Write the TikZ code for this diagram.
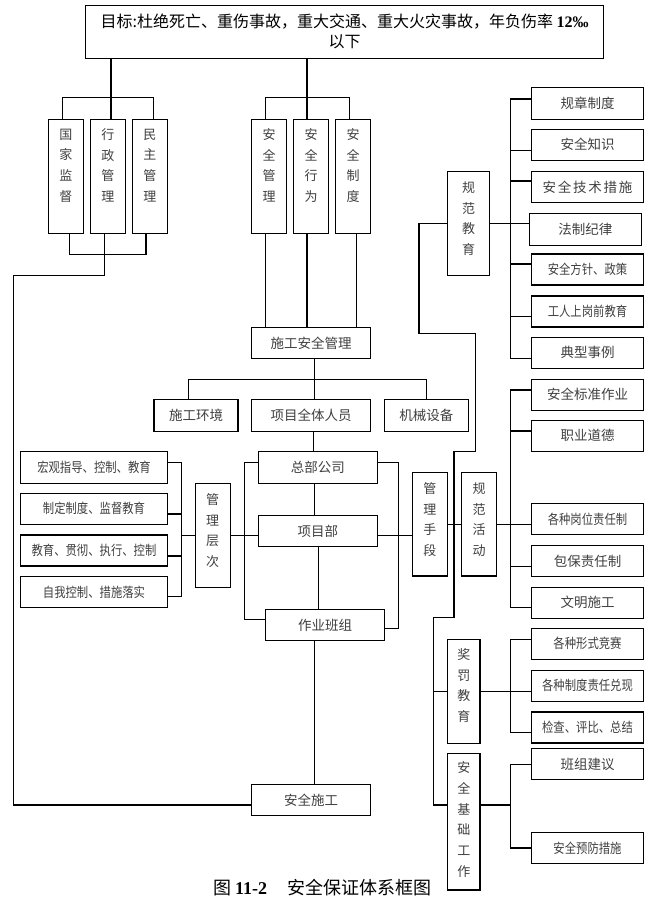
\documentclass[tikz,border=0pt]{standalone}
\usepackage{fontspec}
\setmainfont{Noto Sans CJK SC}
\newfontfamily\cjknarrow{Noto Sans CJK SC}[FakeStretch=0.84]
\newfontfamily\tnr{Liberation Serif}
\newcommand\lsp{\kern1.8pt}
\begin{document}
\begin{tikzpicture}[x=1pt,y=-1pt]
\tikzset{
 bx/.style={draw=black, line width=1.1pt, inner sep=0pt, text=black!75, font=\fontsize{13.5}{16}\selectfont},
 rbx/.style={bx, minimum width=111.6pt, minimum height=31pt},
 lbx/.style={bx, minimum width=146.6pt, minimum height=31pt},
 mbx/.style={bx, minimum width=118.6pt, minimum height=31pt},
 vtxt/.style={inner sep=0pt, align=center, text=black!75, font=\fontsize{13}{20.7}\selectfont},
 ln/.style={line width=1.1pt},
}
\fill[white] (0,0) rectangle (654,906);
\useasboundingbox (0,0) rectangle (654,906);

% top box
\node[bx, text=black, minimum width=518pt, minimum height=53pt, align=center, font=\fontsize{16}{20}\selectfont] (top) at (344.7,31.8) {目标:杜绝死亡、重伤事故，重大交通、重大火灾事故，年负伤率 {\tnr\bfseries 12‰}\\以下};

% vertical boxes, top row
\node[bx, minimum width=35pt, minimum height=114pt] (gjjd) at (65.8,176.3) {};
\node[vtxt] (gjjd-t) at ([yshift=-46.7pt]gjjd.north) {国\\家\\监\\督};
\node[bx, minimum width=35pt, minimum height=114pt] (xzgl) at (107.8,176.3) {};
\node[vtxt] (xzgl-t) at ([yshift=-46.7pt]xzgl.north) {行\\政\\管\\理};
\node[bx, minimum width=35pt, minimum height=114pt] (mzgl) at (149.8,176.3) {};
\node[vtxt] (mzgl-t) at ([yshift=-46.7pt]mzgl.north) {民\\主\\管\\理};
\node[bx, minimum width=35pt, minimum height=114pt] (aqgl) at (269.2,176.3) {};
\node[vtxt] (aqgl-t) at ([yshift=-46.7pt]aqgl.north) {安\\全\\管\\理};
\node[bx, minimum width=35pt, minimum height=114pt] (aqxw) at (311.2,176.3) {};
\node[vtxt] (aqxw-t) at ([yshift=-46.7pt]aqxw.north) {安\\全\\行\\为};
\node[bx, minimum width=35pt, minimum height=114pt] (aqzd) at (353.2,176.3) {};
\node[vtxt] (aqzd-t) at ([yshift=-46.7pt]aqzd.north) {安\\全\\制\\度};

% other vertical boxes
\node[bx, minimum width=41.6pt, minimum height=103.6pt] (gfjy) at (468.5,223.5) {};
\node[vtxt] (gfjy-t) at ([yshift=-47.6pt]gfjy.north) {规\\范\\教\\育};
\node[bx, minimum width=35.3pt, minimum height=103.7pt] (glcc) at (212.7,535.3) {};
\node[vtxt] (glcc-t) at ([yshift=-47.7pt]glcc.north) {管\\理\\层\\次};
\node[bx, minimum width=35.2pt, minimum height=103.3pt] (glsd) at (429.9,524.3) {};
\node[vtxt] (glsd-t) at ([yshift=-47.6pt]glsd.north) {管\\理\\手\\段};
\node[bx, minimum width=34.8pt, minimum height=103.3pt] (gfhd) at (479.1,524.3) {};
\node[vtxt] (gfhd-t) at ([yshift=-47.6pt]gfhd.north) {规\\范\\活\\动};
\node[bx, minimum width=32.3pt, minimum height=104pt] (jfjy) at (463.8,691.3) {};
\node[vtxt] (jfjy-t) at ([yshift=-46.7pt]jfjy.north) {奖\\罚\\教\\育};
\node[bx, minimum width=32.3pt, minimum height=136.7pt] (aqjcgz) at (463.8,821.65) {};
\node[vtxt] (aqjcgz-t) at ([yshift=-66.8pt]aqjcgz.north) {安\\全\\基\\础\\工\\作};

% middle column
\node[mbx] (sgaqgl) at (311,342.8) {施工安全管理};
\node[bx, minimum width=84pt, minimum height=31.6pt] (sghj) at (196,415.5) {施工环境};
\node[mbx, minimum height=31.6pt] (xmqtry) at (311,415.5) {项目全体人员};
\node[bx, minimum width=84pt, minimum height=31.6pt] (jxsb) at (426.3,415.5) {机械设备};
\node[mbx, minimum width=119pt, minimum height=31.6pt] (zbgs) at (317.8,467.5) {总部公司};
\node[mbx, minimum width=119pt] (xmb) at (317.8,531.2) {项目部};
\node[mbx, minimum height=31.4pt] (zybz) at (325,625) {作业班组};
\node[mbx] (aqsg) at (311,799.8) {安全施工};

% left boxes
\node[lbx, minimum height=31.6pt] (hgzd) at (94,467.5) {\cjknarrow 宏观指导、控制、教育};
\node[lbx] (zdzd) at (94,508.8) {\cjknarrow 制定制度、监督教育};
\node[lbx] (jygc) at (94,550.5) {\cjknarrow 教育、贯彻、执行、控制};
\node[lbx, minimum height=30.6pt] (wokz) at (94,592) {\cjknarrow 自我控制、措施落实};

% right column
\node[rbx, minimum height=32pt] (gzzd) at (587.5,103.3) {规章制度};
\node[rbx] (aqzs) at (587.5,144.7) {安全知识};
\node[rbx] (aqjscs) at (587.5,187.2) {安\lsp 全\lsp 技\lsp 术\lsp 措\lsp 施};
\node[rbx, minimum width=112pt, minimum height=31.7pt] (fzjl) at (585.3,229.2) {法制纪律};
\node[rbx] (aqfz) at (587.5,269.5) {\cjknarrow 安全方针、政策};
\node[rbx] (grsg) at (587.5,311.5) {\cjknarrow 工人上岗前教育};
\node[rbx] (dxsl) at (587.5,352.8) {典型事例};
\node[rbx] (aqbz) at (587.5,394.7) {安全标准作业};
\node[rbx] (zydd) at (587.5,435.7) {职业道德};
\node[rbx] (gzgw) at (587.5,519.2) {\cjknarrow 各种岗位责任制};
\node[rbx] (bbzr) at (587.5,561.2) {包保责任制};
\node[rbx] (wmsg) at (587.5,602.8) {文明施工};
\node[rbx] (gzxs) at (587.5,643.8) {\cjknarrow 各种形式竞赛};
\node[rbx] (gzzdzr) at (587.5,685.8) {\cjknarrow 各种制度责任兑现};
\node[rbx] (jcpb) at (587.5,727.5) {\cjknarrow 检查、评比、总结};
\node[rbx] (bzjy) at (587.5,764.2) {班组建议};
\node[rbx] (aqyf) at (587.5,848) {\cjknarrow 安全预防措施};

% caption
\node[inner sep=0pt, font=\fontsize{18}{20}\selectfont] (cap) at (322,888) {图\hspace{4pt}{\tnr\bfseries 11-2}\hspace{20pt}安全保证体系框图};

% ---- connectors ----
% left group
\draw[ln] ([xshift=3.2pt]xzgl.north) -- ([xshift=3.2pt]xzgl.north |- top.south);
\draw[ln] ([xshift=-3.5pt]gjjd.north) -- ++(0,-21) -| ([xshift=3.5pt]mzgl.north);
\draw[ln] ([xshift=3.5pt]gjjd.south) -- ++(0,20.7) -| ([xshift=-3.8pt]mzgl.south);
\coordinate (lc) at (13.3,275.3);
\draw[ln] ([xshift=-3.1pt]xzgl.south) |- (lc) |- ([yshift=-5.2pt]aqsg.west);
% middle group
\draw[ln] ([xshift=-4.2pt]aqxw.north) -- ([xshift=-4.2pt]aqxw.north |- top.south);
\draw[ln] ([xshift=-3.5pt]aqgl.north) -- ++(0,-21) -| ([xshift=-3.9pt]aqzd.north);
\draw[ln] ([xshift=-3.5pt]aqgl.south) -- ([xshift=-3.5pt]aqgl.south |- sgaqgl.north);
\draw[ln] ([xshift=-4.2pt]aqxw.south) -- ([xshift=-4.2pt]aqxw.south |- sgaqgl.north);
\draw[ln] ([xshift=3.5pt]aqzd.south) -- ([xshift=3.5pt]aqzd.south |- sgaqgl.north);
% construction safety management
\draw[ln] ([xshift=3.3pt]sgaqgl.south) -- ([xshift=3.3pt]sgaqgl.south |- xmqtry.north);
\draw[ln] ([xshift=-7.7pt]sghj.north) -- ++(0,-20) -| (jxsb.north);
\draw[ln] ([xshift=2.7pt]xmqtry.south) -- ([xshift=2.7pt]xmqtry.south |- zbgs.north);
\draw[ln] ([xshift=-3.5pt]zbgs.south) -- ([xshift=-3.5pt]zbgs.south |- xmb.north);
\draw[ln] ([xshift=0.5pt]xmb.south) -- ([xshift=0.5pt]xmb.south |- zybz.north);
\draw[ln] ([xshift=-10.7pt]zybz.south) -- ([xshift=-10.7pt]zybz.south |- aqsg.north);
% brackets around levels
\coordinate (lb) at (244.3,540);
\draw[ln] ([yshift=5.2pt]zbgs.west) -| (lb) |- ([yshift=5.7pt]zybz.west);
\coordinate (rb) at (398.3,540);
\draw[ln] ([yshift=5.2pt]zbgs.east) -| (rb) |- ([yshift=-3.3pt]zybz.east);
\draw[ln] (glcc.east) -- (glcc.east -| xmb.west);
\draw[ln] ([yshift=-4.5pt]xmb.east) -- ([yshift=-4.5pt]xmb.east -| glsd.west);
% left list
\coordinate (ls) at (181.7,530);
\draw[ln] ([yshift=4.8pt]hgzd.east) -| (ls) |- ([yshift=-4.7pt]wokz.east);
\draw[ln] ([yshift=-5.2pt]zdzd.east) -- ([yshift=-5.2pt]zdzd.east -| ls);
\draw[ln] ([yshift=-5.5pt]jygc.east) -- ([yshift=-5.5pt]jygc.east -| ls);
\draw[ln] (glcc.west) -- (glcc.west -| ls);
% management means
\draw[ln] (glsd.east) -- (gfhd.west);
\draw[ln] (gfhd.east) -- (gfhd.east -| gzgw.west);
\coordinate (rs2) at (510.3,500);
\draw[ln] ([yshift=4.7pt]aqbz.west) -| (rs2) |- ([yshift=-4.5pt]wmsg.west);
\draw[ln] ([yshift=4.7pt]zydd.west) -- ([yshift=4.7pt]zydd.west -| rs2);
\draw[ln] ([yshift=-5.5pt]bbzr.west) -- ([yshift=-5.5pt]bbzr.west -| rs2);
% long meander
\coordinate (m1) at (419,333.3);
\coordinate (m2) at (475.3,451.7);
\coordinate (m3) at (454,617.3);
\coordinate (m4) at (433.3,805);
\draw[ln] (gfjy.west) -| (m1) -| (m2) -| (m3) -| (m4) -- (m4 -| aqjcgz.west);
\draw[ln] (jfjy.west) -- (jfjy.west -| m4);
% normative education list
\draw[ln] (gfjy.east) -- (gfjy.east -| fzjl.west);
\coordinate (rs1) at (510.3,200);
\draw[ln] ([yshift=4.3pt]gzzd.west) -| (rs1) |- ([yshift=-5.5pt]dxsl.west);
\draw[ln] ([yshift=-6pt]aqzs.west) -- ([yshift=-6pt]aqzs.west -| rs1);
\draw[ln] ([yshift=6.2pt]aqjscs.west) -- ([yshift=6.2pt]aqjscs.west -| rs1);
\draw[ln] ([yshift=5.5pt]aqfz.west) -- ([yshift=5.5pt]aqfz.west -| rs1);
\draw[ln] ([yshift=-5.2pt]grsg.west) -- ([yshift=-5.2pt]grsg.west -| rs1);
% reward and punishment
\coordinate (rs3) at (510.7,690);
\draw[ln] ([yshift=4.5pt]gzxs.west) -| (rs3) |- ([yshift=-4.8pt]jcpb.west);
\draw[ln] (jfjy.east) -- (jfjy.east -| gzzdzr.west);
% safety basic work
\coordinate (rs4) at (510.7,805);
\draw[ln] (bzjy.west) -| (rs4) |- (aqyf.west);
\draw[ln] ([yshift=16.65pt]aqjcgz.east) -- (rs4);
\end{tikzpicture}
\end{document}
